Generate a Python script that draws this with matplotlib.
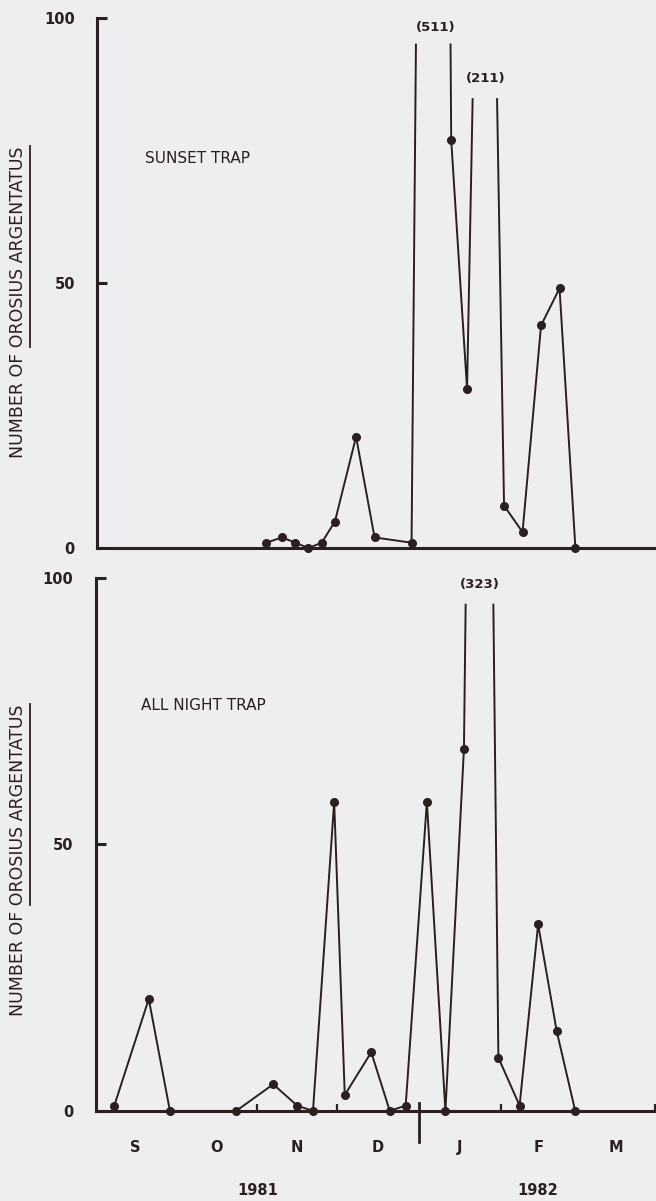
import numpy as np
import matplotlib
matplotlib.use("Agg")
import matplotlib.pyplot as plt
from matplotlib.lines import Line2D

# days counted from 1 Sep 1981
top_days = [64, 70, 75, 80, 85, 90, 98, 105, 119, 128, 134, 140, 147, 154, 161, 168, 175, 181]
top_counts = [1, 2, 1, 0, 1, 5, 21, 2, 1, 511, 77, 30, 211, 8, 3, 42, 49, 0]

bot_days = [7, 20, 28, 53, 67, 76, 82, 90, 94, 104, 111, 117, 125, 132, 139, 145, 152, 160, 167, 174, 181]
bot_counts = [1, 21, 0, 0, 5, 1, 0, 58, 3, 11, 0, 1, 58, 0, 68, 323, 10, 1, 35, 15, 0]

month_labels = ["S", "O", "N", "D", "J", "F", "M"]
month_starts = [0, 30, 61, 91, 122, 153, 181, 212]
year_labels = ["1981", "1982"]
year_break = 122

ink = "#2b1f22"
bg = "#eeeef0"
plt.rcParams["font.family"] = ["DejaVu Sans"]

fig = plt.figure(figsize=(6.56, 12.01), dpi=100, facecolor=bg)
ax_top = fig.add_axes([0.148, 0.5437, 0.852, 0.4413])
ax_bot = fig.add_axes([0.146, 0.0750, 0.854, 0.4437])


def draw_series(ax, days, counts, cuts):
    # cuts: (cut level, label height) for each off-scale peak, in order
    x = np.asarray(days, float)
    y = np.asarray(counts, float)
    runs = [[[], []]]
    k = 0
    for i in range(len(x)):
        if y[i] > 100:
            cap, label_y = cuts[k]
            k += 1
            xi = x[i - 1] + (x[i] - x[i - 1]) * (cap - y[i - 1]) / (y[i] - y[i - 1])
            runs[-1][0].append(xi)
            runs[-1][1].append(cap)
            xo = x[i] + (x[i + 1] - x[i]) * (y[i] - cap) / (y[i] - y[i + 1])
            runs.append([[xo], [cap]])
            ax.text(x[i], label_y, "(%d)" % counts[i], ha="center", va="center",
                    fontsize=9.5, fontweight="bold", color=ink)
        else:
            runs[-1][0].append(x[i])
            runs[-1][1].append(y[i])
    for rx, ry in runs:
        ax.plot(rx, ry, color=ink, lw=1.4, zorder=3, clip_on=False)
    ok = y <= 100
    ax.plot(x[ok], y[ok], "o", color=ink, ms=5.5, zorder=4, clip_on=False)


def style_axes(ax):
    ax.set_facecolor(bg)
    ax.set_xlim(0, 211.5)
    ax.set_ylim(0, 100)
    for s in ["top", "right"]:
        ax.spines[s].set_visible(False)
    for s in ["left", "bottom"]:
        ax.spines[s].set_linewidth(2.2)
        ax.spines[s].set_color(ink)
    ax.set_yticks([0, 50, 100])
    ax.tick_params(axis="y", direction="in", length=7, width=2.2, color=ink,
                   pad=16, labelsize=10.5, labelcolor=ink)
    for lab in ax.get_yticklabels():
        lab.set_fontweight("bold")


style_axes(ax_top)
style_axes(ax_bot)

# top panel: sunset trap
draw_series(ax_top, top_days, top_counts, [(95, 98.3), (84.7, 88.5)])
ax_top.set_xticks([])
ax_top.text(18, 73.5, "SUNSET TRAP", fontsize=11, color=ink, va="center")

# bottom panel: all night trap
draw_series(ax_bot, bot_days, bot_counts, [(95, 98.7)])
ax_bot.text(17, 76, "ALL NIGHT TRAP", fontsize=11, color=ink, va="center")
ax_bot.set_xticks([61, 91, 153, 211])
ax_bot.set_xticklabels([])
ax_bot.tick_params(axis="x", which="major", direction="in", length=5, width=1.6, color=ink)
mids = [(month_starts[i] + month_starts[i + 1]) / 2 for i in range(7)]
ax_bot.set_xticks(mids, minor=True)
ax_bot.set_xticklabels(month_labels, minor=True, fontweight="bold", fontsize=10.5, color=ink)
ax_bot.tick_params(axis="x", which="minor", length=0, pad=21)
ax_bot.plot([year_break, year_break], [-0.058, 0.014], transform=ax_bot.get_xaxis_transform(),
            color=ink, lw=2, clip_on=False)
ax_bot.text((month_starts[0] + year_break) / 2, -0.15, year_labels[0], transform=ax_bot.get_xaxis_transform(),
            ha="center", va="center", fontsize=10.5, fontweight="bold", color=ink)
ax_bot.text((year_break + month_starts[-1]) / 2, -0.15, year_labels[1], transform=ax_bot.get_xaxis_transform(),
            ha="center", va="center", fontsize=10.5, fontweight="bold", color=ink)

# y labels with the species name underlined
prefix = "NUMBER OF "
species = "OROSIUS ARGENTATUS"
fig.canvas.draw()
renderer = fig.canvas.get_renderer()
W, H = fig.bbox.width, fig.bbox.height
for yc in [0.7485, 0.284]:
    t = fig.text(0.027, yc, prefix + species, rotation=90, ha="center", va="center",
                 fontsize=12.5, color=ink)
    tmp = fig.text(0, 0, prefix, rotation=90, fontsize=12.5)
    bb = t.get_window_extent(renderer)
    pre = tmp.get_window_extent(renderer)
    tmp.remove()
    ux = (bb.x1 + 3) / W
    fig.add_artist(Line2D([ux, ux], [(bb.y0 + pre.height) / H, bb.y1 / H],
                          transform=fig.transFigure, color=ink, lw=1.3))

fig.savefig("out.png", dpi=100, facecolor=bg)
